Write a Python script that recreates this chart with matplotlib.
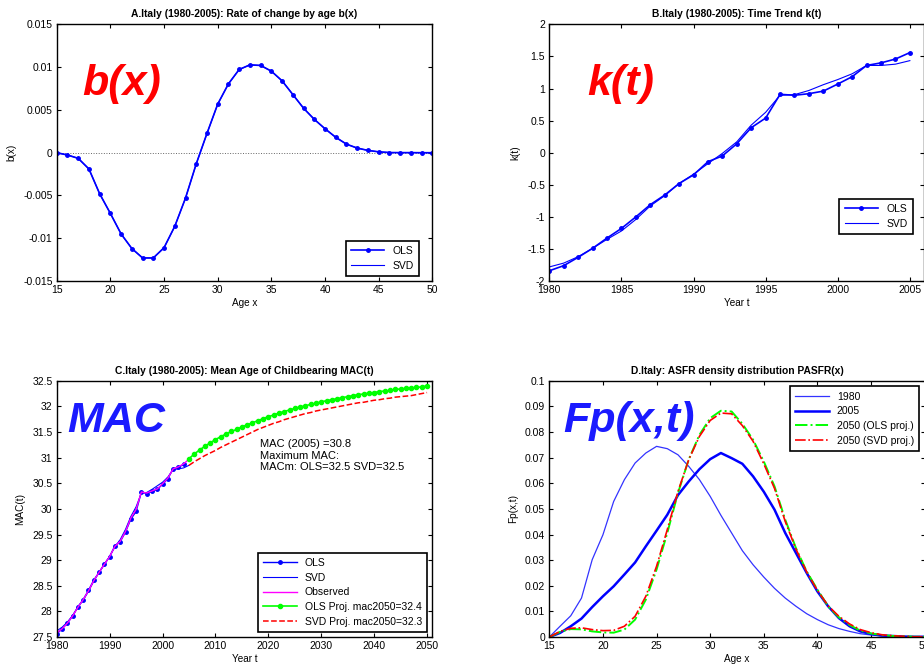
import matplotlib
matplotlib.use('Agg')
import matplotlib.pyplot as plt
from matplotlib.ticker import FuncFormatter

plt.rcParams['font.family'] = ['Liberation Sans', 'DejaVu Sans']
plt.rcParams['axes.unicode_minus'] = False

# %%
# A. b(x) by age
ages = list(range(15, 51))
bx_ols = [0.0, -0.00027, -0.00066, -0.0019, -0.0048, -0.0071, -0.0095, -0.0112,
          -0.0123, -0.0123, -0.0111, -0.0086, -0.0053, -0.0013, 0.00226, 0.00568,
          0.00805, 0.00973, 0.01027, 0.0102, 0.00953, 0.0084, 0.0068, 0.0052,
          0.0039, 0.0028, 0.0018, 0.0010, 0.00054, 0.00027, 0.0001, 0.00002,
          0.00001, 0.00001, 0.0, 0.0]
bx_svd = [0.0, -0.00026, -0.00065, -0.0019, -0.0048, -0.0071, -0.0095, -0.0112,
          -0.0123, -0.0123, -0.0111, -0.0086, -0.0053, -0.0013, 0.00225, 0.00567,
          0.00805, 0.00972, 0.01026, 0.0102, 0.00953, 0.0084, 0.0068, 0.0052,
          0.0039, 0.0028, 0.0018, 0.0010, 0.00054, 0.00027, 0.0001, 0.00002,
          0.00001, 0.00001, 0.0, 0.0]

# %%
# B. k(t) by year
years = list(range(1980, 2006))
kt_ols = [-1.84, -1.76, -1.63, -1.49, -1.33, -1.18, -1.00, -0.81, -0.66, -0.48,
          -0.345, -0.14, -0.05, 0.14, 0.39, 0.54, 0.91, 0.895, 0.92, 0.96,
          1.07, 1.185, 1.36, 1.40, 1.46, 1.56]
kt_svd = [-1.78, -1.72, -1.62, -1.49, -1.35, -1.22, -1.04, -0.83, -0.67, -0.48,
          -0.335, -0.17, -0.01, 0.17, 0.43, 0.63, 0.895, 0.905, 0.97, 1.06,
          1.14, 1.23, 1.36, 1.36, 1.38, 1.435]

# %%
# C. mean age of childbearing
mac_years = list(range(1980, 2005))
mac_ols = [27.56, 27.66, 27.77, 27.91, 28.09, 28.23, 28.41, 28.61, 28.76, 28.92,
           29.07, 29.28, 29.36, 29.55, 29.80, 29.95, 30.33, 30.30, 30.34, 30.38,
           30.48, 30.59, 30.78, 30.81, 30.87]
mac_svd = [27.62, 27.69, 27.79, 27.92, 28.08, 28.22, 28.39, 28.59, 28.76, 28.92,
           29.07, 29.26, 29.40, 29.60, 29.85, 30.04, 30.31, 30.32, 30.38, 30.45,
           30.52, 30.62, 30.77, 30.78, 30.80, 30.85]
mac_obs = [27.58, 27.66, 27.77, 27.91, 28.08, 28.23, 28.40, 28.60, 28.76, 28.92,
           29.07, 29.27, 29.37, 29.56, 29.82, 29.99, 30.33, 30.31, 30.35, 30.39,
           30.49, 30.60, 30.78, 30.82, 30.88, 30.97]
proj_years = list(range(2005, 2051))
proj_ols = [30.98, 31.07, 31.15, 31.22, 31.29, 31.35, 31.41, 31.46, 31.51, 31.55,
            31.60, 31.64, 31.68, 31.72, 31.76, 31.80, 31.83, 31.87, 31.90, 31.93,
            31.96, 31.99, 32.01, 32.04, 32.06, 32.09, 32.11, 32.13, 32.15, 32.17,
            32.19, 32.21, 32.23, 32.24, 32.26, 32.27, 32.29, 32.30, 32.31, 32.33,
            32.34, 32.35, 32.36, 32.37, 32.38, 32.40]
proj_svd = [30.85, 30.92, 30.98, 31.04, 31.09, 31.14, 31.20, 31.25, 31.30, 31.35,
            31.40, 31.45, 31.50, 31.55, 31.59, 31.63, 31.67, 31.70, 31.74, 31.77,
            31.80, 31.83, 31.86, 31.88, 31.91, 31.93, 31.95, 31.97, 31.99, 32.01,
            32.03, 32.05, 32.07, 32.08, 32.10, 32.12, 32.13, 32.15, 32.16, 32.18,
            32.19, 32.20, 32.21, 32.23, 32.25, 32.27]

# %%
# D. ASFR density
asfr_1980 = [0.0, 0.0042, 0.0083, 0.0152, 0.0302, 0.0399, 0.0529, 0.0614, 0.0679,
             0.0718, 0.0744, 0.0735, 0.0711, 0.0666, 0.0614, 0.0549, 0.0475, 0.0406,
             0.0337, 0.0282, 0.0234, 0.0190, 0.0152, 0.0120, 0.0091, 0.0068, 0.0048,
             0.0033, 0.0022, 0.0013, 0.0008, 0.0004, 0.0003, 0.0001, 0.0001, 0.0]
asfr_2005 = [0.0, 0.0016, 0.0042, 0.0072, 0.0117, 0.0159, 0.0198, 0.0244, 0.0291,
             0.0354, 0.0415, 0.0477, 0.0554, 0.0607, 0.0655, 0.0694, 0.0718, 0.0698,
             0.0676, 0.0627, 0.0567, 0.0497, 0.0406, 0.0328, 0.0250, 0.0178, 0.0120,
             0.0074, 0.0042, 0.0022, 0.0012, 0.0006, 0.0004, 0.0002, 0.0001, 0.0001]
asfr_2050_ols = [0.0, 0.0020, 0.0031, 0.0030, 0.0022, 0.0018, 0.0017, 0.0029, 0.0068,
                 0.0146, 0.0263, 0.0406, 0.0562, 0.0693, 0.0789, 0.0854, 0.0883,
                 0.0880, 0.0832, 0.0770, 0.0685, 0.0588, 0.0458, 0.0347, 0.0256,
                 0.0185, 0.0120, 0.0077, 0.0047, 0.0025, 0.0014, 0.0008, 0.0004,
                 0.0003, 0.0001, 0.0001]
asfr_2050_svd = [0.0, 0.0022, 0.0034, 0.0036, 0.0029, 0.0025, 0.0026, 0.0042, 0.0081,
                 0.0159, 0.0276, 0.0419, 0.0568, 0.0692, 0.0783, 0.0845, 0.0874,
                 0.0871, 0.0825, 0.0764, 0.0676, 0.0580, 0.0451, 0.0343, 0.0254,
                 0.0182, 0.0122, 0.0081, 0.0051, 0.0029, 0.0017, 0.0009, 0.0005,
                 0.0003, 0.0001, 0.0001]

TICK_FS = 7.5
LAB_FS = 7.2
TITLE_FS = 7.4
BIG = dict(fontsize=31, fontweight='bold', fontstyle='italic')
fmt = FuncFormatter(lambda v, p: '%g' % round(v, 6))


def matlab_axes(ax):
    ax.tick_params(direction='in', top=True, right=True, length=3, width=0.8,
                   labelsize=TICK_FS, pad=3)
    for s in ax.spines.values():
        s.set_linewidth(1.0)
    ax.yaxis.set_major_formatter(fmt)


def legend(ax, loc, anchor, **kw):
    lg = ax.legend(loc=loc, bbox_to_anchor=anchor, fontsize=7.5, fancybox=False,
                   edgecolor='black', framealpha=1, borderaxespad=0,
                   handlelength=3.2, labelspacing=0.45, borderpad=0.5, **kw)
    lg.get_frame().set_linewidth(1.2)
    return lg


fig = plt.figure(figsize=(9.24, 6.66), dpi=100)
axA = fig.add_axes([0.0614, 0.578, 0.4065, 0.3854])
axB = fig.add_axes([0.5945, 0.578, 0.4058, 0.3854])
axC = fig.add_axes([0.0614, 0.0435, 0.4065, 0.3848])
axD = fig.add_axes([0.5945, 0.0435, 0.4062, 0.3848])

# A
axA.axhline(0, color='0.4', lw=0.7, ls=':')
axA.plot(ages, bx_ols, '.-', color='blue', lw=1.2, ms=5, label='OLS')
axA.plot(ages, bx_svd, '-', color='blue', lw=0.8, label='SVD')
axA.set_xlim(15, 50)
axA.set_ylim(-0.015, 0.015)
axA.set_xticks(range(15, 51, 5))
axA.set_yticks([-0.015, -0.01, -0.005, 0, 0.005, 0.01, 0.015])
matlab_axes(axA)
axA.set_title('A.Italy (1980-2005): Rate of change by age b(x)', fontsize=TITLE_FS,
              fontweight='bold', pad=5)
axA.set_xlabel('Age x', fontsize=LAB_FS, labelpad=2)
axA.set_ylabel('b(x)', fontsize=LAB_FS, labelpad=5)
axA.text(0.069, 0.725, 'b(x)', color='red', transform=axA.transAxes, **BIG)
legend(axA, 'lower right', (0.965, 0.02))

# B
axB.plot(years, kt_ols, '.-', color='blue', lw=1.2, ms=5, label='OLS')
axB.plot(years, kt_svd, '-', color='blue', lw=0.8, label='SVD')
axB.set_xlim(1980, 2006)
axB.set_ylim(-2, 2)
axB.set_xticks(range(1980, 2006, 5))
axB.set_yticks([-2, -1.5, -1, -0.5, 0, 0.5, 1, 1.5, 2])
matlab_axes(axB)
axB.set_title('B.Italy (1980-2005): Time Trend k(t)', fontsize=TITLE_FS,
              fontweight='bold', pad=5)
axB.set_xlabel('Year t', fontsize=LAB_FS, labelpad=2)
axB.set_ylabel('k(t)', fontsize=LAB_FS, labelpad=5)
axB.text(0.1, 0.725, 'k(t)', color='red', transform=axB.transAxes, **BIG)
legend(axB, 'lower right', (0.969, 0.184))

# C
axC.plot(mac_years, mac_ols, '.-', color='blue', lw=1.0, ms=5, label='OLS')
axC.plot(years, mac_svd, '-', color='blue', lw=0.8, label='SVD')
axC.plot(years, mac_obs, '-', color='magenta', lw=1.0, label='Observed')
axC.plot(proj_years, proj_ols, '.-', color='#00ff00', lw=1.2, ms=6,
         label='OLS Proj. mac2050=32.4')
axC.plot(proj_years, proj_svd, '--', color='red', lw=1.1,
         label='SVD Proj. mac2050=32.3')
axC.set_xlim(1980, 2051)
axC.set_ylim(27.5, 32.5)
axC.set_xticks(range(1980, 2051, 10))
axC.set_yticks([27.5 + 0.5 * i for i in range(11)])
matlab_axes(axC)
axC.set_title('C.Italy (1980-2005): Mean Age of Childbearing MAC(t)', fontsize=TITLE_FS,
              fontweight='bold', pad=5)
axC.set_xlabel('Year t', fontsize=LAB_FS, labelpad=2)
axC.set_ylabel('MAC(t)', fontsize=LAB_FS, labelpad=5)
axC.text(0.027, 0.80, 'MAC', color='#1a1aff', transform=axC.transAxes, **BIG)
axC.text(2018.4, 31.36, 'MAC (2005) =30.8\nMaximum MAC:\nMACm: OLS=32.5 SVD=32.5',
         fontsize=8, va='top', ha='left', linespacing=1.2)
legend(axC, 'lower right', (0.987, 0.02))

# D
axD.plot(ages, asfr_1980, '-', color='#3333ff', lw=0.9, label='1980')
axD.plot(ages, asfr_2005, '-', color='blue', lw=1.8, label='2005')
axD.plot(ages, asfr_2050_ols, '-.', color='#00ff00', lw=1.4, label='2050 (OLS proj.)')
axD.plot(ages, asfr_2050_svd, '-.', color='red', lw=1.2, label='2050 (SVD proj.)')
axD.set_xlim(15, 50)
axD.set_ylim(0, 0.1)
axD.set_xticks(range(15, 51, 5))
axD.set_yticks([0.01 * i for i in range(11)])
matlab_axes(axD)
axD.set_title('D.Italy: ASFR density distribution PASFR(x)', fontsize=TITLE_FS,
              fontweight='bold', pad=5)
axD.set_xlabel('Age x', fontsize=LAB_FS, labelpad=2)
axD.set_ylabel('Fp(x,t)', fontsize=LAB_FS, labelpad=5)
axD.text(0.038, 0.80, 'Fp(x,t)', color='#1a1aff', transform=axD.transAxes, **BIG)
legend(axD, 'upper right', (0.986, 0.978))

fig.savefig('out.png', dpi=100)
